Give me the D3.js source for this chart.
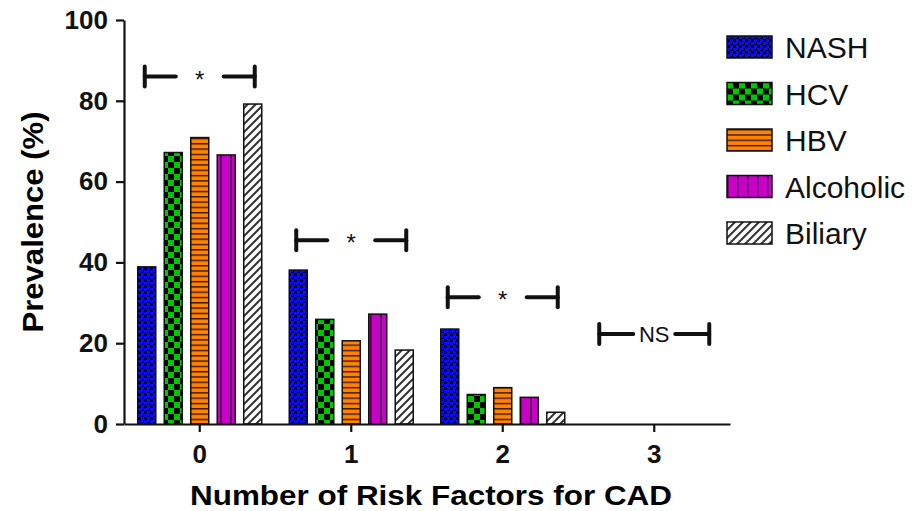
<!DOCTYPE html>
<html>
<head>
<meta charset="utf-8">
<script src="https://cdn.jsdelivr.net/npm/d3@7"></script>
<style>
  body { margin: 0; background: #fff; }
  text { font-family: "Liberation Sans", Arial, sans-serif; }
</style>
</head>
<body>
<svg id="canvas" width="914" height="511"></svg>
<script>
// risk factor counts on the x axis
let categories = ['0', '1', '2', '3']
let seriesNames = ['NASH', 'HCV', 'HBV', 'Alcoholic', 'Biliary']
// prevalence (%) per group
let nash = [38.9, 38.1, 23.5, 0]
let hcv = [67.2, 25.9, 7.3, 0]
let hbv = [70.9, 20.6, 9.0, 0]
let alcoholic = [66.6, 27.2, 6.6, 0]
let biliary = [79.2, 18.3, 2.9, 0]
// significance brackets (height in % units)
let sigLabels = ['*', '*', '*', 'NS']
let sigLevels = [86, 45.5, 31.4, 22.3]
let yTicks = [0, 20, 40, 60, 80, 100]

let seriesValues = [nash, hcv, hbv, alcoholic, biliary]

let canvas = d3.select('#canvas')
let defs = canvas.append('defs')

// fill patterns, one per series
let makePattern = (id, w, h, bg, draw) => {
    let p = defs.append('pattern')
        .attr('id', id)
        .attr('patternUnits', 'userSpaceOnUse')
        .attr('width', w)
        .attr('height', h)
    p.append('rect').attr('width', w).attr('height', h).attr('fill', bg)
    draw(p)
}

makePattern('pNASH', 6, 6, '#000018', p => {
    p.append('rect').attr('x', 0).attr('y', 0).attr('width', 3).attr('height', 3).attr('fill', '#0a0aff')
    p.append('rect').attr('x', 3).attr('y', 3).attr('width', 3).attr('height', 3).attr('fill', '#0a0aff')
    p.append('rect').attr('x', 3).attr('y', 0).attr('width', 2).attr('height', 2).attr('fill', '#0a0aff')
})
makePattern('pHCV', 12, 12, '#000', p => {
    p.append('rect').attr('x', 0).attr('y', 0).attr('width', 6).attr('height', 6).attr('fill', '#00c800')
    p.append('rect').attr('x', 6).attr('y', 6).attr('width', 6).attr('height', 6).attr('fill', '#00c800')
})
makePattern('pHBV', 10, 5.3, '#ff8200', p => {
    p.append('rect').attr('x', 0).attr('y', 0).attr('width', 10).attr('height', 1.4).attr('fill', '#3a1a00')
})
makePattern('pAlcoholic', 10, 10, '#c800c8', p => {
    p.append('rect').attr('x', 0).attr('y', 0).attr('width', 1.6).attr('height', 10).attr('fill', '#500050')
})
makePattern('pBiliary', 8, 8, '#fff', p => {
    p.append('path').attr('d', 'M-1,9 L9,-1 M-5,5 L5,-5 M3,13 L13,3')
        .attr('stroke', '#333').attr('stroke-width', 2)
})

let fills = seriesNames.map(s => 'url(#p' + s + ')')

let x = d3.scaleBand().domain(categories).range([124, 730])
let inner = d3.scaleBand().domain(seriesNames).range([-62, 62]).paddingInner(0.32)
let y = d3.scaleLinear().domain([0, 100]).range([424, 20])

// bars
let bars = []
categories.forEach((c, ci) => {
    seriesNames.forEach((s, si) => {
        bars.push({ cat: c, series: s, si: si, value: seriesValues[si][ci] })
    })
})

canvas.append('g')
    .selectAll('rect')
    .data(bars)
    .enter()
    .append('rect')
    .attr('x', d => x(d.cat) + x.bandwidth() / 2 + inner(d.series))
    .attr('y', d => y(d.value))
    .attr('width', inner.bandwidth())
    .attr('height', d => y(0) - y(d.value))
    .attr('fill', d => fills[d.si])
    .attr('stroke', '#111')
    .attr('stroke-width', 1.5)

// axes
let yAxis = canvas.append('g')
    .attr('transform', 'translate(124,0)')
    .call(d3.axisLeft(y).tickValues(yTicks).tickSize(8).tickSizeOuter(0).tickPadding(8))
let xAxis = canvas.append('g')
    .attr('transform', 'translate(0,424)')
    .call(d3.axisBottom(x).tickSize(8).tickSizeOuter(0).tickPadding(13))

;[yAxis, xAxis].forEach(a => {
    a.selectAll('path, line').attr('stroke', '#111').attr('stroke-width', 2.2)
    a.selectAll('text').attr('font-size', 26).attr('font-weight', 'bold').attr('fill', '#111')
        .style('font-family', '"Liberation Sans", Arial, sans-serif')
})

// axis titles
canvas.append('text')
    .attr('transform', 'translate(43,222) rotate(-90)')
    .attr('text-anchor', 'middle')
    .attr('font-size', 29)
    .attr('font-weight', 'bold')
    .attr('textLength', 221)
    .attr('lengthAdjust', 'spacingAndGlyphs')
    .text('Prevalence (%)')

canvas.append('text')
    .attr('x', 431)
    .attr('y', 505)
    .attr('text-anchor', 'middle')
    .attr('font-size', 28)
    .attr('font-weight', 'bold')
    .attr('textLength', 482)
    .attr('lengthAdjust', 'spacingAndGlyphs')
    .text('Number of Risk Factors for CAD')

// significance brackets
categories.forEach((c, ci) => {
    let cx = x(c) + x.bandwidth() / 2
    let by = y(sigLevels[ci])
    let l = cx - 55, r = cx + 55
    let isNS = sigLabels[ci] === 'NS'
    let gap = isNS ? 21 : 24
    let g = canvas.append('g').attr('stroke', '#111').attr('stroke-width', 4).attr('stroke-linecap', 'round')
    g.append('line').attr('x1', l).attr('x2', l).attr('y1', by - 10).attr('y2', by + 10)
    g.append('line').attr('x1', r).attr('x2', r).attr('y1', by - 10).attr('y2', by + 10)
    g.append('line').attr('x1', l).attr('x2', cx - gap).attr('y1', by).attr('y2', by)
    g.append('line').attr('x1', cx + gap).attr('x2', r).attr('y1', by).attr('y2', by)
    canvas.append('text')
        .attr('x', cx)
        .attr('y', isNS ? by + 8 : by + 11)
        .attr('text-anchor', 'middle')
        .attr('font-size', isNS ? 22 : 24)
        .attr('fill', '#111')
        .text(sigLabels[ci])
})

// legend
let legend = canvas.append('g')
    .selectAll('g')
    .data(seriesNames)
    .enter()
    .append('g')
    .attr('transform', (d, i) => 'translate(727,' + (36 + i * 46.5) + ')')

legend.append('rect')
    .attr('width', 45)
    .attr('height', 22)
    .attr('fill', (d, i) => fills[i])
    .attr('stroke', '#111')
    .attr('stroke-width', 1.5)

legend.append('text')
    .attr('x', 58)
    .attr('y', 22)
    .attr('font-size', 30)
    .attr('fill', '#111')
    .text(d => d)
</script>
</body>
</html>
